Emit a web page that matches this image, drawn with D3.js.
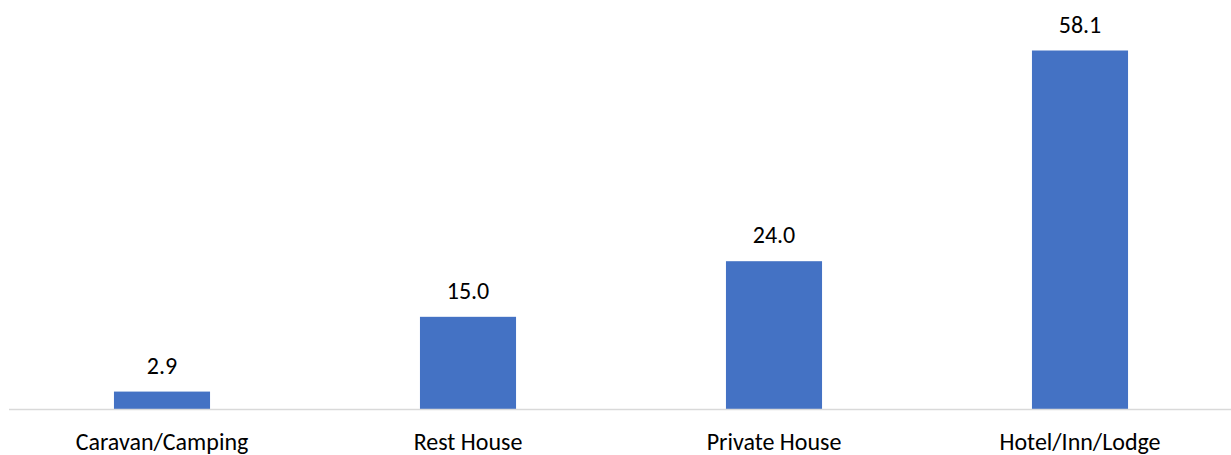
<!DOCTYPE html>
<html>
<head>
<meta charset="utf-8">
<script src="https://cdn.jsdelivr.net/npm/d3@7"></script>
<style>
  html, body { margin: 0; padding: 0; background: #fff; }
  svg { display: block; }
  text { font-family: Carlito, "Open Sans", "Liberation Sans", sans-serif; fill: #000; }
</style>
</head>
<body>
<svg id="chart" width="1231" height="455"></svg>
<script>
// Accommodation types and their shares
const categories = ["Caravan/Camping", "Rest House", "Private House", "Hotel/Inn/Lodge"];
const values = [2.9, 15.0, 24.0, 58.1];

const svg = d3.select("#chart");
const baseY = 409.5;
const fontSize = "24px";

const x = d3.scaleBand()
  .domain(categories)
  .range([9, 1233])
  .paddingInner(0.686)
  .paddingOuter(0.343);

const y = d3.scaleLinear()
  .domain([0, 58.1])
  .range([baseY, 50.5]);

// bars
svg.append("g")
  .selectAll("rect")
  .data(values)
  .join("rect")
  .attr("x", (d, i) => x(categories[i]))
  .attr("y", d => y(d))
  .attr("width", x.bandwidth())
  .attr("height", d => y(0) - y(d))
  .attr("fill", "#4472C4");

// category axis
const xAxis = d3.axisBottom(x).tickSize(0);
const gx = svg.append("g")
  .attr("transform", `translate(0,${baseY})`)
  .call(xAxis);
gx.select(".domain").attr("stroke", "#d9d9d9").attr("stroke-width", 1.5)
  .attr("d", "M9,0H1231");
gx.selectAll("text")
  .attr("y", 40)
  .attr("dy", null)
  .style("font-family", 'Carlito, "Open Sans", "Liberation Sans", sans-serif')
  .style("font-size", fontSize)
  .attr("fill", "#000");

// value labels
svg.append("g")
  .selectAll("text")
  .data(values)
  .join("text")
  .attr("x", (d, i) => x(categories[i]) + x.bandwidth() / 2)
  .attr("y", d => y(d) - 18)
  .attr("text-anchor", "middle")
  .style("font-size", fontSize)
  .text(d => d.toFixed(1));
</script>
</body>
</html>
